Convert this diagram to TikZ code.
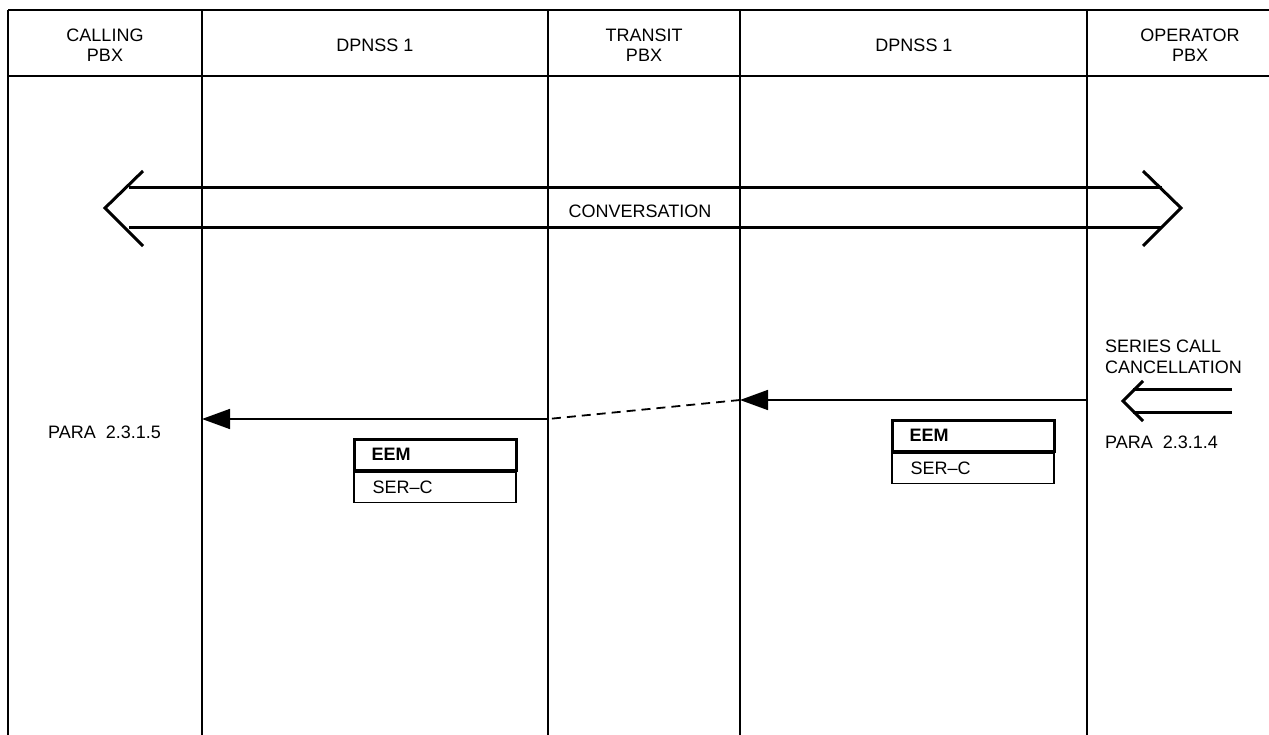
\documentclass[tikz,border=0pt]{standalone}
\usepackage{fontspec}
\setmainfont{Liberation Sans}
\usetikzlibrary{arrows.meta}
\tikzset{
  txt/.style={font=\fontsize{18}{20.5}\selectfont, inner sep=0pt, align=center},
  ltxt/.style={font=\fontsize{18}{20.5}\selectfont, inner sep=0pt, anchor=west, align=left},
  frame/.style={line width=2.7pt},
  life/.style={line width=1.8pt},
  msg/.style={line width=1.6pt, -{Triangle[length=28pt,width=20pt]}},
  dmsg/.style={line width=1.8pt, dash pattern=on 9pt off 6pt},
  fat/.style={line width=3pt},
  topbox/.style={draw, line width=3pt, minimum width=162pt, minimum height=31pt, inner sep=0pt},
  botbox/.style={draw, line width=1.3pt, minimum width=162pt, minimum height=30pt, inner sep=0pt}
}
\begin{document}
\begin{tikzpicture}[x=1pt,y=-1pt]
\useasboundingbox (0,0) rectangle (1269,735);
% frame
\draw[frame] (8,10) -- (1269,10);
\draw[frame] (8,76) -- (1269,76);
% lifelines
\foreach \n/\x in {a/8,b/202,c/548,d/740,e/1087} {
  \coordinate (\n top) at (\x,10);
  \coordinate (\n bot) at (\x,735);
  \draw[life] (\n top) -- (\n bot);
}
% headers
\node[txt] (h1) at (105,45) {CALLING\\PBX};
\node[txt] (h2) at (375,45) {DPNSS 1};
\node[txt] (h3) at (644,45) {TRANSIT\\PBX};
\node[txt] (h4) at (914,45) {DPNSS 1};
\node[txt] (h5) at (1190,45) {OPERATOR\\PBX};
% conversation
\coordinate (cl) at (105,208);
\coordinate (cr) at (1181,208);
\draw[fat] (129,188) -- (1162,188);
\draw[fat] (129,228) -- (1162,228);
\draw[fat, line join=miter] ([shift={(38,-37)}]cl) -- (cl) -- ([shift={(38,38)}]cl);
\draw[fat, line join=miter] ([shift={(-38,-37)}]cr) -- (cr) -- ([shift={(-38,38)}]cr);
\node[txt] (conv) at (640,211) {CONVERSATION};
% series call cancellation stimulus
\node[ltxt] (scc) at (1105,357) {SERIES CALL\\CANCELLATION};
\coordinate (st) at (1123,401);
\draw[fat] (1133,389) -- (1232,389);
\draw[fat] (1133,412) -- (1232,412);
\draw[fat, line join=miter] ([shift={(20,-20)}]st) -- (st) -- ([shift={(20,20)}]st);
\node[ltxt] (p4) at (1105,442) {PARA\ \ 2.3.1.4};
\node[ltxt] (p5) at (48,432) {PARA\ \ 2.3.1.5};
% messages
\coordinate (m1s) at (1087,400);
\coordinate (m1e) at (740,400);
\coordinate (m2s) at (548,419);
\coordinate (m2e) at (202,419);
\draw[msg] (m1s) -- (m1e);
\draw[dmsg] (m1e) -- (m2s);
\draw[msg] (m2s) -- (m2e);
% EEM boxes
\node[topbox] (eem1) at (435,454.5) {};
\node[botbox, anchor=north] (ser1) at (eem1.south) {};
\node[ltxt, font=\fontsize{18}{20.5}\selectfont\bfseries] (eem1t) at ([xshift=19pt]eem1.west) {EEM};
\node[ltxt] (ser1t) at ([xshift=19pt]ser1.west) {SER--C};
\node[topbox] (eem2) at (973,435.5) {};
\node[botbox, anchor=north] (ser2) at (eem2.south) {};
\node[ltxt, font=\fontsize{18}{20.5}\selectfont\bfseries] (eem2t) at ([xshift=19pt]eem2.west) {EEM};
\node[ltxt] (ser2t) at ([xshift=19pt]ser2.west) {SER--C};
\end{tikzpicture}
\end{document}
